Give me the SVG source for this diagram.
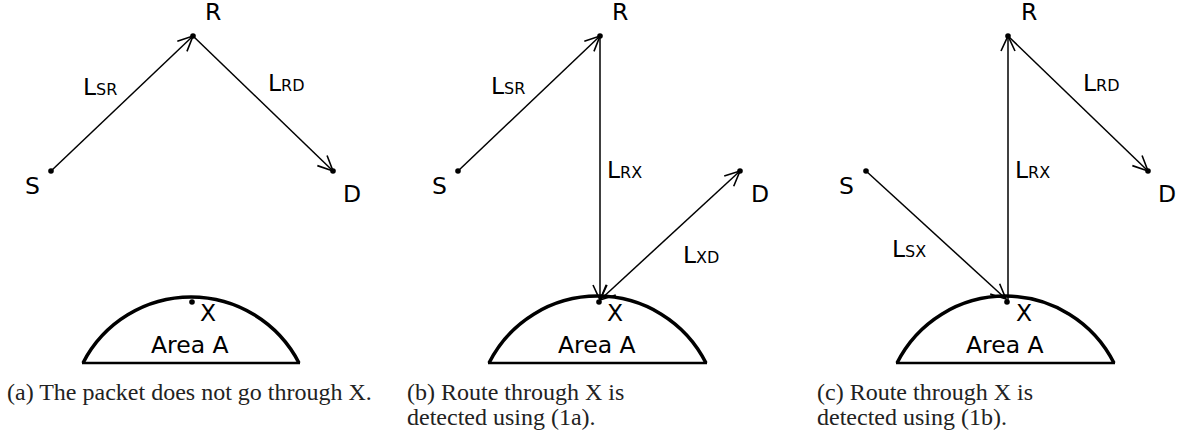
<svg xmlns="http://www.w3.org/2000/svg" width="1182" height="439" viewBox="0 0 1182 439">
<defs>
<style>
.lbl{font-family:"DejaVu Sans",Verdana,sans-serif;font-size:23.5px;fill:#000}
.sub{font-size:16px}
.cap{font-family:"Liberation Serif","Times New Roman",serif;font-size:24px;fill:#222}
.ln{stroke:#000;stroke-width:1.5;fill:none}
.dot{fill:#000}
.arc{fill:#fff;stroke:#000;stroke-width:3.5}
.base{stroke:#000;stroke-width:2.5}
</style>
<marker id="ah" markerUnits="userSpaceOnUse" markerWidth="40" markerHeight="40" refX="0" refY="0" viewBox="-20 -20 40 40" orient="auto-start-reverse">
<path d="M -15 -7 L 0 0 L -15 7" fill="none" stroke="#000" stroke-width="1.6"/>
</marker>
</defs>
<rect width="1182" height="439" fill="#fff"/>

<!-- Panel (a) -->
<g id="panel-a">
<g id="a-area">
<path class="arc" d="M 83 363 A 121.4 121.4 0 0 1 299 363"/>
<line class="base" x1="82" y1="363" x2="300" y2="363"/>
<text class="lbl" x="151" y="353">Area A</text>
</g>
<g id="a-connectors">
<line class="ln" x1="51" y1="171" x2="193" y2="36" marker-end="url(#ah)"/>
<line class="ln" x1="193" y1="36" x2="333" y2="171" marker-end="url(#ah)"/>
<text class="lbl" x="83" y="95">L<tspan class="sub">SR</tspan></text>
<text class="lbl" x="268" y="91">L<tspan class="sub">RD</tspan></text>
</g>
<g id="a-S"><circle class="dot" cx="51" cy="171" r="2.8"/><text class="lbl" x="25" y="194">S</text></g>
<g id="a-R"><circle class="dot" cx="193" cy="36" r="2.8"/><text class="lbl" x="205" y="20">R</text></g>
<g id="a-D"><circle class="dot" cx="333" cy="171" r="2.8"/><text class="lbl" x="343" y="202">D</text></g>
<g id="a-X"><circle class="dot" cx="192" cy="302" r="2.8"/><text class="lbl" x="200" y="321">X</text></g>
<text class="cap" x="7" y="400">(a) The packet does not go through X.</text>
</g>

<!-- Panel (b) -->
<g id="panel-b">
<g id="b-area">
<path class="arc" d="M 489 363 A 121.4 121.4 0 0 1 706 363"/>
<line class="base" x1="488" y1="363" x2="707" y2="363"/>
<text class="lbl" x="558" y="353">Area A</text>
</g>
<g id="b-connectors">
<line class="ln" x1="458" y1="171" x2="600" y2="36" marker-end="url(#ah)"/>
<line class="ln" x1="600" y1="36" x2="600" y2="300" marker-end="url(#ah)"/>
<line class="ln" x1="600" y1="300" x2="740" y2="171" marker-start="url(#ah)" marker-end="url(#ah)"/>
<text class="lbl" x="491" y="94">L<tspan class="sub">SR</tspan></text>
<text class="lbl" x="607" y="178">L<tspan class="sub">RX</tspan></text>
<text class="lbl" x="683" y="263">L<tspan class="sub">XD</tspan></text>
</g>
<g id="b-S"><circle class="dot" cx="458" cy="171" r="2.8"/><text class="lbl" x="432" y="194">S</text></g>
<g id="b-R"><circle class="dot" cx="600" cy="36" r="2.8"/><text class="lbl" x="612" y="20">R</text></g>
<g id="b-D"><circle class="dot" cx="740" cy="171" r="2.8"/><text class="lbl" x="751" y="202">D</text></g>
<g id="b-X"><circle class="dot" cx="599" cy="302" r="2.8"/><text class="lbl" x="607" y="321">X</text></g>
<text class="cap" x="407" y="400">(b) Route through X is</text>
<text class="cap" x="407" y="425">detected using (1a).</text>
</g>

<!-- Panel (c) -->
<g id="panel-c">
<g id="c-area">
<path class="arc" d="M 897 363 A 121.4 121.4 0 0 1 1114 363"/>
<line class="base" x1="896" y1="363" x2="1115" y2="363"/>
<text class="lbl" x="966" y="353">Area A</text>
</g>
<g id="c-connectors">
<line class="ln" x1="866" y1="171" x2="1006" y2="299" marker-end="url(#ah)"/>
<line class="ln" x1="1008" y1="300" x2="1008" y2="36" marker-end="url(#ah)"/>
<line class="ln" x1="1008" y1="36" x2="1148" y2="171" marker-end="url(#ah)"/>
<text class="lbl" x="1083" y="91">L<tspan class="sub">RD</tspan></text>
<text class="lbl" x="1015" y="178">L<tspan class="sub">RX</tspan></text>
<text class="lbl" x="892" y="257">L<tspan class="sub">SX</tspan></text>
</g>
<g id="c-S"><circle class="dot" cx="866" cy="171" r="2.8"/><text class="lbl" x="839" y="194">S</text></g>
<g id="c-R"><circle class="dot" cx="1008" cy="36" r="2.8"/><text class="lbl" x="1021" y="20">R</text></g>
<g id="c-D"><circle class="dot" cx="1148" cy="171" r="2.8"/><text class="lbl" x="1158" y="202">D</text></g>
<g id="c-X"><circle class="dot" cx="1007" cy="302" r="2.8"/><text class="lbl" x="1016" y="321">X</text></g>
<text class="cap" x="817" y="400">(c) Route through X is</text>
<text class="cap" x="817" y="425">detected using (1b).</text>
</g>
</svg>
